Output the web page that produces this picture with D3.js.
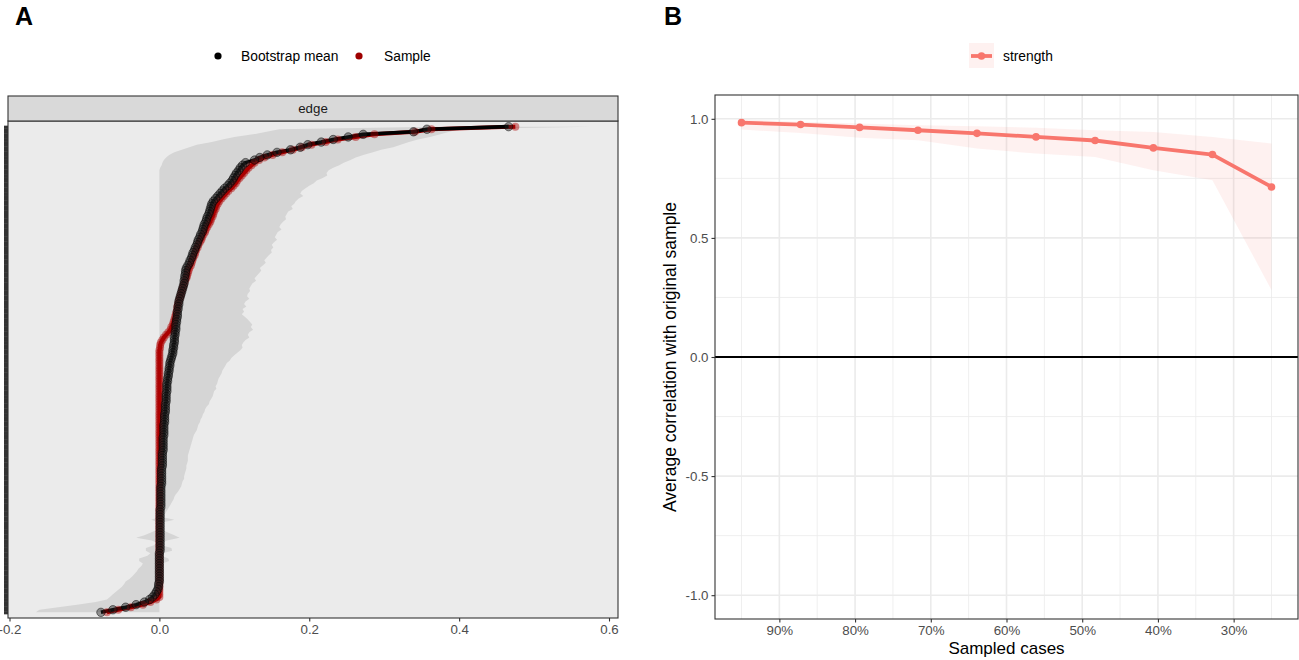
<!DOCTYPE html>
<html>
<head>
<meta charset="utf-8">
<script src="https://cdn.jsdelivr.net/npm/d3@7"></script>
<style>
body { margin: 0; background: #fff; }
text { font-family: "Liberation Sans", Arial, Helvetica, sans-serif; }
</style>
</head>
<body>
<svg id="chart" width="1299" height="660"></svg>
<script>
// ---- Panel A data: edges ordered by sample weight (rank 0 = strongest) ----
var sample = [
  0.475,0.363,0.341,0.287,0.262,0.238,0.222,0.203,0.190,0.178,
  0.164,0.151,0.140,0.133,0.127,0.123,0.119,0.116,0.113,0.110,
  0.107,0.104,0.102,0.099,0.096,0.092,0.089,0.086,0.083,0.080,
  0.078,0.076,0.075,0.073,0.072,0.071,0.069,0.068,0.066,0.064,
  0.062,0.061,0.059,0.057,0.056,0.054,0.052,0.051,0.049,0.048,
  0.047,0.045,0.044,0.043,0.042,0.040,0.039,0.038,0.037,0.036,
  0.034,0.033,0.032,0.031,0.030,0.029,0.028,0.027,0.026,0.025,
  0.024,0.024,0.023,0.022,0.021,0.020,0.019,0.018,0.016,0.015,
  0.012,0.009,0.006,0.004,0.002,0.001,0.001,0,0,0,
  0,0,0,0,0,0,0,0,0,0,
  0,0,0,0,0,0,0,0,0,0,
  0,0,0,0,0,0,0,0,0,0,
  0,0,0,0,0,0,0,0,0,0,
  0,0,0,0,0,0,0,0,0,0,
  0,0,0,0,0,0,0,0,0,0,
  0,0,0,0,0,0,0,0,0,0,
  0,0,0,0,0,0,0,0,0,0,
  0,0,0,0,0,0,0,0,0,0,
  0,0,0,0,-0.004,-0.012,-0.022,-0.038,-0.055,-0.070
];

var bootMean = [
  0.466,0.357,0.339,0.272,0.252,0.232,0.216,0.198,0.188,0.175,
  0.157,0.144,0.134,0.127,0.115,0.111,0.108,0.106,0.103,0.101,
  0.099,0.097,0.094,0.091,0.087,0.084,0.081,0.078,0.075,0.072,
  0.070,0.069,0.068,0.067,0.066,0.064,0.063,0.062,0.060,0.059,
  0.058,0.057,0.055,0.054,0.052,0.051,0.050,0.048,0.047,0.045,
  0.044,0.043,0.041,0.040,0.038,0.036,0.035,0.035,0.034,0.034,
  0.033,0.033,0.032,0.031,0.030,0.029,0.028,0.027,0.026,0.026,
  0.025,0.025,0.024,0.024,0.024,0.023,0.023,0.022,0.022,0.022,
  0.021,0.021,0.020,0.020,0.020,0.019,0.019,0.018,0.018,0.017,
  0.016,0.015,0.014,0.014,0.013,0.013,0.012,0.012,0.011,0.011,
  0.010,0.010,0.010,0.010,0.009,0.009,0.009,0.009,0.008,0.008,
  0.008,0.008,0.007,0.007,0.007,0.007,0.006,0.006,0.006,0.006,
  0.006,0.005,0.005,0.005,0.005,0.005,0.005,0.004,0.004,0.004,
  0.004,0.004,0.004,0.003,0.003,0.003,0.003,0.003,0.003,0.003,
  0.002,0.002,0.002,0.002,0.002,0.002,0.002,0.002,0.002,0.001,
  0.001,0.001,0.001,0.001,0.001,0.001,0.001,0.001,0.001,0.001,
  0.001,0.001,0.001,0.001,0.001,0.001,0,0,0,0,
  0,0,0,0,0,0,0,0,-0.001,-0.001,
  -0.002,-0.004,-0.006,-0.009,-0.013,-0.020,-0.031,-0.045,-0.062,-0.078
];

var ciUpper = [
  0.575,0.400,0.387,0.375,0.361,0.345,0.333,0.322,0.312,0.296,
  0.285,0.272,0.262,0.255,0.246,0.240,0.232,0.226,0.223,0.224,
  0.218,0.210,0.206,0.200,0.195,0.190,0.188,0.192,0.186,0.182,
  0.180,0.176,0.178,0.172,0.170,0.168,0.169,0.165,0.162,0.160,
  0.163,0.158,0.156,0.154,0.157,0.153,0.150,0.152,0.149,0.150,
  0.146,0.143,0.140,0.142,0.138,0.134,0.136,0.133,0.130,0.127,
  0.129,0.124,0.122,0.120,0.121,0.118,0.117,0.120,0.115,0.113,
  0.116,0.111,0.113,0.110,0.114,0.118,0.121,0.124,0.122,0.125,
  0.120,0.118,0.120,0.115,0.112,0.110,0.111,0.108,0.104,0.100,
  0.096,0.094,0.090,0.088,0.086,0.084,0.083,0.081,0.079,0.078,
  0.077,0.075,0.076,0.073,0.072,0.071,0.069,0.067,0.066,0.063,
  0.061,0.060,0.058,0.057,0.055,0.054,0.052,0.051,0.050,0.048,
  0.046,0.045,0.044,0.043,0.042,0.041,0.040,0.039,0.038,0.038,
  0.038,0.037,0.036,0.036,0.035,0.034,0.033,0.033,0.031,0.030,
  0.029,0.027,0.025,0.022,0.020,0.019,0.017,0.015,0.013,0.011,
  0.009,0.007,0.005,0.020,0.004,0.003,0.003,0.004,0.012,0.020,
  0.027,0.010,0.003,0.004,0.016,0.017,0.004,0.003,0.012,0.013,
  0.004,0.003,0.003,0.002,0.003,0.002,0.003,0.002,0.002,0.002,
  0.001,0.001,0.001,0.001,0,0,0,0,0,0
];

var ciLower = [
  0.370,0.160,0.143,0.125,0.100,0.084,0.070,0.050,0.040,0.030,
  0.020,0.013,0.009,0.006,0.004,0.003,0.001,0,0,0,
  0,0,0,0,0,0,0,0,0,0,
  0,0,0,0,0,0,0,0,0,0,
  0,0,0,0,0,0,0,0,0,0,
  0,0,0,0,0,0,0,0,0,0,
  0,0,0,0,0,0,0,0,0,0,
  0,0,0,0,0,0,0,0,0,0,
  0,0,0,0,0,0,0,0,0,0,
  0,0,0,0,0,0,0,0,0,0,
  0,0,0,0,0,0,0,0,0,0,
  0,0,0,0,0,0,0,0,0,0,
  0,0,0,0,0,0,0,0,0,0,
  0,0,0,0,0,0,0,0,0,0,
  0,0,0,0,0,0,0,0,0,0,
  0,0,0,-0.011,0,0,-0.002,-0.004,-0.012,-0.020,
  -0.031,-0.010,-0.003,-0.008,-0.018,-0.018,-0.012,-0.016,-0.027,-0.027,
  -0.022,-0.024,-0.028,-0.030,-0.033,-0.036,-0.040,-0.045,-0.047,-0.050,
  -0.054,-0.058,-0.062,-0.066,-0.070,-0.085,-0.110,-0.135,-0.160,-0.165
];

var xTicksA = [-0.2, 0.0, 0.2, 0.4, 0.6];

// ---- Panel B data: case-dropping stability ----
var sampledCases = [0.95, 0.872, 0.794, 0.717, 0.639, 0.561, 0.483, 0.406, 0.328, 0.25];
var corMean = [0.984, 0.976, 0.964, 0.952, 0.939, 0.924, 0.909, 0.878, 0.850, 0.714];
var corLower = [0.955, 0.940, 0.921, 0.910, 0.875, 0.854, 0.840, 0.784, 0.742, 0.281];
var corUpper = [0.997, 0.988, 0.980, 0.973, 0.969, 0.963, 0.952, 0.945, 0.924, 0.896];

var xTicksB = [0.9, 0.8, 0.7, 0.6, 0.5, 0.4, 0.3];
var xMinorB = [0.95, 0.85, 0.75, 0.65, 0.55, 0.45, 0.35, 0.25];
var yTicksB = [-1, -0.5, 0, 0.5, 1];
var yMinorB = [-0.75, -0.25, 0.25, 0.75];

// ggplot style 5% padding
function expand(ext, f) {
    f = f || 0.05;
    var d = (ext[1] - ext[0]) * f;
    return [ext[0] - d, ext[1] + d];
}

var svg = d3.select("#chart");
var axisGrey = "#4d4d4d";

// panel letters
svg.append("text").attr("x", 15).attr("y", 25).text("A")
    .attr("font-size", 25).attr("font-weight", "bold");
svg.append("text").attr("x", 664).attr("y", 25).text("B")
    .attr("font-size", 25).attr("font-weight", "bold");

// ================= Panel A =================
var pA = { left: 8, right: 618, top: 121, bottom: 618 };
var idx = d3.range(sample.length);

var xA = d3.scaleLinear()
    .domain(expand(d3.extent(ciLower.concat(ciUpper))))
    .range([pA.left, pA.right]);

var yA = d3.scalePoint()
    .domain(idx)
    .range([pA.top, pA.bottom])
    .padding(2.2);

svg.append("clipPath").attr("id", "clipA")
    .append("rect")
    .attr("x", pA.left).attr("y", pA.top)
    .attr("width", pA.right - pA.left).attr("height", pA.bottom - pA.top);

svg.append("rect")
    .attr("x", pA.left).attr("y", pA.top)
    .attr("width", pA.right - pA.left).attr("height", pA.bottom - pA.top)
    .attr("fill", "#ebebeb");

var gA = svg.append("g").attr("clip-path", "url(#clipA)");

// bootstrap CI band
gA.append("path")
    .datum(idx)
    .attr("fill", "#d5d5d5")
    .attr("d", d3.area()
        .y(i => yA(i))
        .x0(i => xA(ciLower[i]))
        .x1(i => xA(ciUpper[i])));

var lineSample = d3.line().x(i => xA(sample[i])).y(i => yA(i));
var lineMean = d3.line().x(i => xA(bootMean[i])).y(i => yA(i));

gA.append("path").datum(idx)
    .attr("fill", "none").attr("stroke", "#9e0000")
    .attr("stroke-width", 4).attr("stroke-linejoin", "round")
    .attr("d", lineSample);

gA.append("path").datum(idx)
    .attr("fill", "none").attr("stroke", "#000")
    .attr("stroke-width", 3.6).attr("stroke-linejoin", "round")
    .attr("d", lineMean);

gA.append("g").selectAll("circle")
    .data(idx)
    .enter().append("circle")
    .attr("cx", i => xA(sample[i]))
    .attr("cy", i => yA(i))
    .attr("r", 4)
    .attr("fill", "#b00000").attr("fill-opacity", 0.45);

gA.append("g").selectAll("circle")
    .data(idx)
    .enter().append("circle")
    .attr("cx", i => xA(bootMean[i]))
    .attr("cy", i => yA(i))
    .attr("r", 4.2)
    .attr("fill", "#222").attr("fill-opacity", 0.45)
    .attr("stroke", "#000").attr("stroke-opacity", 0.55).attr("stroke-width", 0.9);

// panel border + strip
svg.append("rect")
    .attr("x", pA.left).attr("y", pA.top)
    .attr("width", pA.right - pA.left).attr("height", pA.bottom - pA.top)
    .attr("fill", "none").attr("stroke", "#333").attr("stroke-width", 1.1);

svg.append("rect")
    .attr("x", pA.left).attr("y", 96)
    .attr("width", pA.right - pA.left).attr("height", pA.top - 96)
    .attr("fill", "#d9d9d9").attr("stroke", "#333").attr("stroke-width", 1.1);
svg.append("text")
    .attr("x", (pA.left + pA.right) / 2).attr("y", 113)
    .attr("text-anchor", "middle").attr("font-size", 13.3).attr("fill", "#1a1a1a")
    .text("edge");

// axes A
var axA = svg.append("g")
    .attr("transform", "translate(0," + pA.bottom + ")")
    .call(d3.axisBottom(xA).tickValues(xTicksA).tickSize(3.5).tickPadding(3)
        .tickFormat(d => d.toFixed(1)));
axA.select(".domain").remove();
axA.selectAll("line").attr("stroke", "#333").attr("stroke-width", 1.1);
axA.selectAll("text").attr("fill", axisGrey).attr("font-size", 13.3)
    .attr("font-family", "Liberation Sans, Arial, sans-serif");

// one tick per edge, packed so tight they read as a solid bar
var ayA = svg.append("g")
    .attr("transform", "translate(" + pA.left + ",0)")
    .call(d3.axisLeft(yA).tickSize(4).tickFormat(""));
ayA.select(".domain").remove();
ayA.selectAll("line").attr("stroke", "#333").attr("stroke-width", 3);

// legend A
svg.append("circle").attr("cx", 218).attr("cy", 56).attr("r", 3.6).attr("fill", "#000");
svg.append("text").attr("x", 241).attr("y", 61).attr("font-size", 13.8).attr("fill", "#000")
    .text("Bootstrap mean");
svg.append("circle").attr("cx", 359).attr("cy", 56).attr("r", 3.6).attr("fill", "#9e0000");
svg.append("text").attr("x", 384).attr("y", 61).attr("font-size", 13.8).attr("fill", "#000")
    .text("Sample");

// ================= Panel B =================
var pB = { left: 715, right: 1298, top: 95, bottom: 619 };
var salmon = "#F8766D";

var xB = d3.scaleLinear()
    .domain(expand(d3.extent(sampledCases)).reverse())
    .range([pB.left, pB.right]);
var yB = d3.scaleLinear()
    .domain(expand([-1, 1]))
    .range([pB.bottom, pB.top]);

svg.append("rect")
    .attr("x", pB.left).attr("y", pB.top)
    .attr("width", pB.right - pB.left).attr("height", pB.bottom - pB.top)
    .attr("fill", "#fff");

var grid = svg.append("g");
grid.selectAll(".vminor").data(xMinorB).enter().append("line")
    .attr("x1", d => xB(d)).attr("x2", d => xB(d))
    .attr("y1", pB.top).attr("y2", pB.bottom)
    .attr("stroke", "#ebebeb").attr("stroke-width", 0.8);
grid.selectAll(".hminor").data(yMinorB).enter().append("line")
    .attr("y1", d => yB(d)).attr("y2", d => yB(d))
    .attr("x1", pB.left).attr("x2", pB.right)
    .attr("stroke", "#ebebeb").attr("stroke-width", 0.8);
grid.selectAll(".vmajor").data(xTicksB).enter().append("line")
    .attr("x1", d => xB(d)).attr("x2", d => xB(d))
    .attr("y1", pB.top).attr("y2", pB.bottom)
    .attr("stroke", "#ebebeb").attr("stroke-width", 1.6);
grid.selectAll(".hmajor").data(yTicksB).enter().append("line")
    .attr("y1", d => yB(d)).attr("y2", d => yB(d))
    .attr("x1", pB.left).attr("x2", pB.right)
    .attr("stroke", "#ebebeb").attr("stroke-width", 1.6);

var idxB = d3.range(sampledCases.length);

svg.append("path").datum(idxB)
    .attr("fill", salmon).attr("fill-opacity", 0.1)
    .attr("d", d3.area()
        .x(i => xB(sampledCases[i]))
        .y0(i => yB(corLower[i]))
        .y1(i => yB(corUpper[i])));

svg.append("line")
    .attr("x1", pB.left).attr("x2", pB.right)
    .attr("y1", yB(0)).attr("y2", yB(0))
    .attr("stroke", "#000").attr("stroke-width", 1.8);

svg.append("path").datum(idxB)
    .attr("fill", "none").attr("stroke", salmon).attr("stroke-width", 3.8)
    .attr("stroke-linejoin", "round")
    .attr("d", d3.line().x(i => xB(sampledCases[i])).y(i => yB(corMean[i])));

svg.append("g").selectAll("circle").data(idxB).enter().append("circle")
    .attr("cx", i => xB(sampledCases[i]))
    .attr("cy", i => yB(corMean[i]))
    .attr("r", 3.8).attr("fill", salmon);

svg.append("rect")
    .attr("x", pB.left).attr("y", pB.top)
    .attr("width", pB.right - pB.left).attr("height", pB.bottom - pB.top)
    .attr("fill", "none").attr("stroke", "#333").attr("stroke-width", 1.1);

var axB = svg.append("g")
    .attr("transform", "translate(0," + pB.bottom + ")")
    .call(d3.axisBottom(xB).tickValues(xTicksB).tickSize(3.5).tickPadding(3)
        .tickFormat(d => Math.round(d * 100) + "%"));
axB.select(".domain").remove();
axB.selectAll("line").attr("stroke", "#333").attr("stroke-width", 1.1);
axB.selectAll("text").attr("fill", axisGrey).attr("font-size", 13.3)
    .attr("font-family", "Liberation Sans, Arial, sans-serif");

var ayB = svg.append("g")
    .attr("transform", "translate(" + pB.left + ",0)")
    .call(d3.axisLeft(yB).tickValues(yTicksB).tickSize(3.5).tickPadding(3)
        .tickFormat(d => d.toFixed(1)));
ayB.select(".domain").remove();
ayB.selectAll("line").attr("stroke", "#333").attr("stroke-width", 1.1);
ayB.selectAll("text").attr("fill", axisGrey).attr("font-size", 13.3)
    .attr("font-family", "Liberation Sans, Arial, sans-serif");

svg.append("text")
    .attr("x", (pB.left + pB.right) / 2).attr("y", 654)
    .attr("text-anchor", "middle").attr("font-size", 17).attr("fill", "#000")
    .text("Sampled cases");
svg.append("text")
    .attr("transform", "translate(676," + ((pB.top + pB.bottom) / 2) + ") rotate(-90)")
    .attr("text-anchor", "middle").attr("font-size", 17.5).attr("fill", "#000")
    .text("Average correlation with original sample");

// legend B
svg.append("rect").attr("x", 969).attr("y", 43).attr("width", 25).attr("height", 25)
    .attr("fill", salmon).attr("fill-opacity", 0.1);
svg.append("line").attr("x1", 971).attr("x2", 992).attr("y1", 56).attr("y2", 56)
    .attr("stroke", salmon).attr("stroke-width", 3.8);
svg.append("circle").attr("cx", 981.5).attr("cy", 56).attr("r", 3.8).attr("fill", salmon);
svg.append("text").attr("x", 1003).attr("y", 61).attr("font-size", 13.8).attr("fill", "#000")
    .text("strength");
</script>
</body>
</html>
